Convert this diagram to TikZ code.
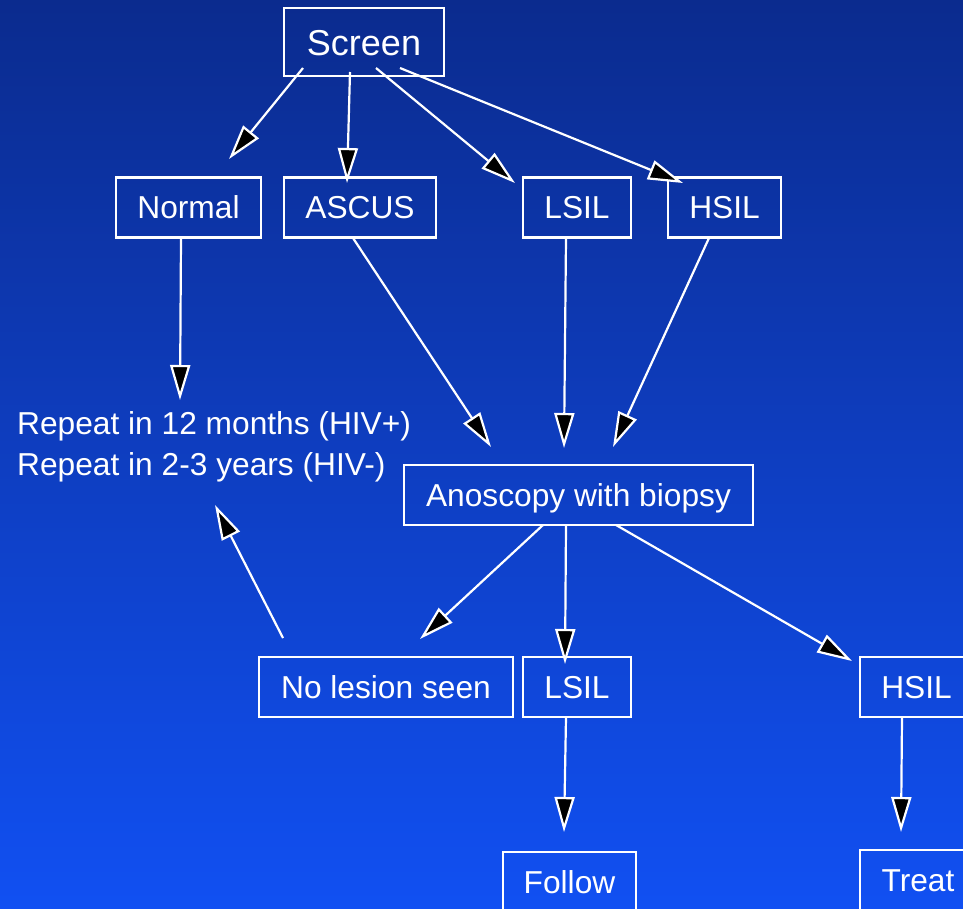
\documentclass[tikz,border=0pt]{standalone}
\usepackage{fontspec}
\setmainfont{Liberation Sans}
\usetikzlibrary{arrows.meta}
\definecolor{bgtop}{HTML}{0B2B8E}
\definecolor{bgbot}{HTML}{1150F2}
\begin{document}
\begin{tikzpicture}[x=1pt,y=-1pt,
  box/.style={draw=white, line width=2.4pt, text=white, inner sep=0pt,
    minimum height=60pt, font=\fontsize{31.7pt}{38pt}\selectfont,
    text height=22.6pt, text depth=0pt},
  lbl/.style={text=white, inner sep=0pt, font=\fontsize{31.7pt}{38pt}\selectfont},
  arr/.style={draw=white, line width=2.2pt,
    -{Triangle[length=35pt,width=20pt,fill=black]}}]
\shade[top color=bgtop, bottom color=bgbot] (0,0) rectangle (963,908);
\useasboundingbox (0,0) rectangle (963,908);
\begin{scope}
\clip (0,0) rectangle (963,908);
% nodes
\node[box, minimum width=160pt, minimum height=68pt, font=\fontsize{36pt}{42pt}\selectfont, text height=26pt] (screen) at (364,42) {Screen};
\node[box, minimum width=145pt] (normal) at (188.5,207.5) {Normal};
\node[box, minimum width=152pt] (ascus) at (360,207.5) {ASCUS};
\node[box, minimum width=108pt] (lsil) at (577,207.5) {LSIL};
\node[box, minimum width=113pt] (hsil) at (724.5,207.5) {HSIL};
\node[lbl, anchor=base west] (rep1) at (17,434) {Repeat in 12 months (HIV+)};
\node[lbl, anchor=base west] (rep2) at (17,475) {Repeat in 2-3 years (HIV-)};
\node[box, minimum width=349pt] (anos) at (578.5,495) {Anoscopy with biopsy};
\node[box, minimum width=254pt] (nolesion) at (386,687) {No lesion seen};
\node[box, minimum width=108pt] (lsilb) at (577,687) {LSIL};
\node[box, minimum width=113pt] (hsilb) at (916.5,687) {HSIL};
\node[box, minimum width=133pt] (follow) at (569.5,882) {Follow};
\node[box, minimum width=116pt] (treat) at (918,880) {Treat};
% connector end points
\coordinate (s1) at (303,68);  \coordinate (t1) at (229,159);
\coordinate (s2) at (350,72);  \coordinate (t2) at (347,183);
\coordinate (s3) at (376,68);  \coordinate (t3) at (515,183);
\coordinate (s4) at (400,68);  \coordinate (t4) at (683,183);
\coordinate (s5) at (181,238); \coordinate (t5) at (180,400);
\coordinate (s6) at (353,238); \coordinate (t6) at (491,447);
\coordinate (s7) at (566,238); \coordinate (t7) at (564,448);
\coordinate (s8) at (709,238); \coordinate (t8) at (613,447);
\coordinate (s9) at (543,525); \coordinate (t9) at (420,639);
\coordinate (s10) at (566,525); \coordinate (t10) at (565,664);
\coordinate (s11) at (616,525); \coordinate (t11) at (852,661);
\coordinate (s12) at (283,638); \coordinate (t12) at (215,505);
\coordinate (s13) at (566,717); \coordinate (t13) at (564,832);
\coordinate (s14) at (902,717); \coordinate (t14) at (901,832);
\foreach \i in {1,...,14} { \draw[arr] (s\i) -- (t\i); }
\end{scope}
\end{tikzpicture}
\end{document}
